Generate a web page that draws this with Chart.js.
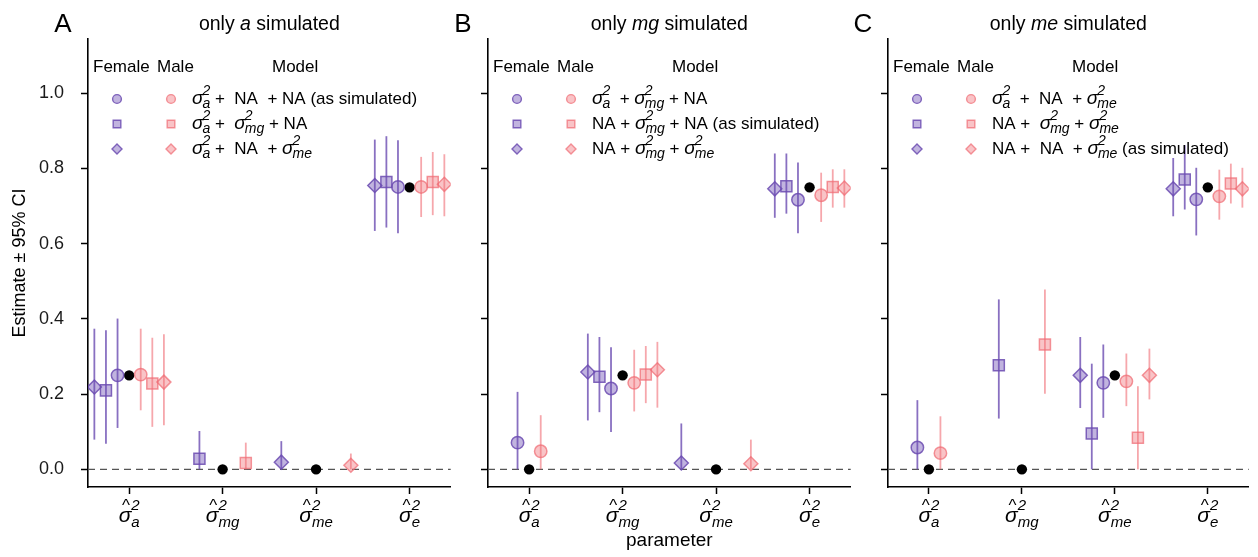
<!DOCTYPE html>
<html>
<head>
<meta charset="utf-8">
<script src="https://cdn.jsdelivr.net/npm/chart.js@4.4.0/dist/chart.umd.min.js"></script>
<style>
    body { margin: 0; background: #fff; width: 1258px; height: 557px; position: relative; overflow: hidden; }
    canvas { position: absolute; top: 0; }
</style>
</head>
<body>
<canvas id="chartA" width="460" height="557" style="left:0px"></canvas>
<canvas id="chartB" width="420" height="557" style="left:440px"></canvas>
<canvas id="chartC" width="418" height="557" style="left:840px"></canvas>
<script>
// parâmetros no eixo x e marcas do eixo y
var parametros = ['a', 'mg', 'me', 'e'];
var ticksY = [0, 0.2, 0.4, 0.6, 0.8, 1.0];

// valor simulado (ponto preto) em cada painel
var simuladoA = [0.25, 0, 0, 0.75];
var simuladoB = [0, 0.25, 0, 0.75];
var simuladoC = [0, 0, 0.25, 0.75];

// linhas = modelo 1 (círculo), modelo 2 (quadrado), modelo 3 (losango); colunas = parametros
var estA_femea = [[0.250, null, null, 0.751], [0.210, 0.028, null, 0.764], [0.219, null, 0.019, 0.755]];
var infA_femea = [[0.110, null, null, 0.628], [0.068, 0.000, null, 0.643], [0.079, null, 0.000, 0.634]];
var supA_femea = [[0.401, null, null, 0.875], [0.370, 0.102, null, 0.886], [0.374, null, 0.075, 0.877]];
var estA_macho = [[0.252, null, null, 0.751], [0.228, 0.017, null, 0.764], [0.232, null, 0.011, 0.758]];
var infA_macho = [[0.157, null, null, 0.671], [0.113, 0.000, null, 0.676], [0.117, null, 0.000, 0.673]];
var supA_macho = [[0.374, null, null, 0.831], [0.350, 0.071, null, 0.844], [0.359, null, 0.042, 0.838]];

var estB_femea = [[0.071, 0.215, null, 0.717], [null, 0.246, null, 0.753], [null, 0.259, 0.017, 0.746]];
var infB_femea = [[0.000, 0.099, null, 0.628], [null, 0.152, null, 0.680], [null, 0.130, 0.000, 0.669]];
var supB_femea = [[0.206, 0.325, null, 0.816], [null, 0.352, null, 0.840], [null, 0.361, 0.122, 0.840]];
var estB_macho = [[0.048, 0.230, null, 0.729], [null, 0.252, null, 0.751], [null, 0.265, 0.015, 0.748]];
var infB_macho = [[0.000, 0.154, null, 0.658], [null, 0.176, null, 0.696], [null, 0.164, 0.000, 0.696]];
var supB_macho = [[0.144, 0.318, null, 0.789], [null, 0.328, null, 0.798], [null, 0.339, 0.079, 0.798]];

var estC_femea = [[0.058, null, 0.230, 0.718], [null, 0.277, 0.095, 0.771], [null, null, 0.250, 0.746]];
var infC_femea = [[0.000, null, 0.137, 0.622], [null, 0.135, 0.000, 0.691], [null, null, 0.163, 0.673]];
var supC_femea = [[0.184, null, 0.332, 0.802], [null, 0.452, 0.281, 0.862], [null, null, 0.352, 0.828]];
var estC_macho = [[0.043, null, 0.234, 0.726], [null, 0.332, 0.084, 0.760], [null, null, 0.250, 0.746]];
var infC_macho = [[0.000, null, 0.168, 0.664], [null, 0.201, 0.000, 0.707], [null, null, 0.186, 0.696]];
var supC_macho = [[0.141, null, 0.308, 0.797], [null, 0.478, 0.221, 0.813], [null, null, 0.321, 0.802]];

// textos da legenda ({s: x} = sigma^2 com índice x)
var modelosA = [
    [{s: 'a'}, ' +  NA  + NA (as simulated)'],
    [{s: 'a'}, ' +  ', {s: 'mg'}, ' + NA'],
    [{s: 'a'}, ' +  NA  + ', {s: 'me'}]
];
var modelosB = [
    [{s: 'a'}, '  + ', {s: 'mg'}, ' + NA'],
    ['NA + ', {s: 'mg'}, ' + NA (as simulated)'],
    ['NA + ', {s: 'mg'}, ' + ', {s: 'me'}]
];
var modelosC = [
    [{s: 'a'}, '  +  NA  + ', {s: 'me'}],
    ['NA +  ', {s: 'mg'}, ' + ', {s: 'me'}],
    ['NA +  NA  + ', {s: 'me'}, ' (as simulated)']
];

var FONTE = '"Liberation Sans", Arial, sans-serif';
var estilos = ['circle', 'rect', 'rectRot'];
var raios = [6.2, 7.8, 7.0];
var raiosLegenda = [4.4, 5.4, 5.0];
var passo = [1, 2, 3];
var dodge = 0.124;
var cores = {
    femea: {borda: 'rgba(108, 76, 178, 0.85)', fundo: 'rgba(108, 76, 178, 0.42)', barra: 'rgba(108, 76, 178, 0.8)'},
    macho: {borda: 'rgba(240, 108, 116, 0.72)', fundo: 'rgba(240, 108, 116, 0.4)', barra: 'rgba(240, 108, 116, 0.6)'}
};

function fonte(tam, italico) {
    return (italico ? 'italic ' : '') + tam + 'px ' + FONTE;
}

// desenha (ou mede) texto com sigma^2 e índices
function desenharRico(ctx, partes, x, y, tam, centro) {
    var largura = 0;
    for (var k = 0; k < 2; k++) {
        var desenhar = k == 1;
        var xAtual = x;
        if (desenhar && centro) xAtual = x - largura / 2;
        partes.forEach(function (p) {
            var w;
            if (typeof p === 'string') {
                ctx.font = fonte(tam);
                w = ctx.measureText(p).width;
                if (desenhar) ctx.fillText(p, xAtual, y);
            } else if (p.i) {
                ctx.font = fonte(tam, true);
                w = ctx.measureText(p.i).width;
                if (desenhar) ctx.fillText(p.i, xAtual, y);
            } else {
                ctx.font = fonte(tam + 2, true);
                var ws = ctx.measureText('σ').width;
                if (desenhar) ctx.fillText('σ', xAtual, y);
                ctx.font = fonte(tam - 3, true);
                var wi = Math.max(ctx.measureText('2').width, ctx.measureText(p.s).width);
                if (desenhar) {
                    ctx.fillText('2', xAtual + ws - 1, y - 9);
                    ctx.fillText(p.s, xAtual + ws - 1, y + 4);
                }
                w = ws - 1 + wi;
            }
            xAtual += w;
            if (!desenhar) largura += w;
        });
    }
}

function desenharRotuloEixo(ctx, sub, cx) {
    ctx.font = fonte(21, true);
    var ws = ctx.measureText('σ').width;
    ctx.font = fonte(15, true);
    var wi = Math.max(ctx.measureText('2').width, ctx.measureText(sub).width);
    var x0 = cx - (ws + wi) / 2;
    ctx.font = fonte(21, true);
    ctx.fillText('σ', x0, 522);
    ctx.font = fonte(17);
    var wh = ctx.measureText('^').width;
    ctx.fillText('^', x0 + ws / 2 - wh / 2 + 1, 511);
    ctx.font = fonte(15, true);
    ctx.fillText('2', x0 + ws, 510);
    ctx.fillText(sub, x0 + ws, 527);
}

function montarDatasets(simulado, sexos) {
    var datasets = [];
    sexos.forEach(function (sexo) {
        for (var m = 0; m < 3; m++) {
            var pontos = [], inferior = [], superior = [];
            sexo.est[m].forEach(function (v, i) {
                if (v === null) return;
                pontos.push({x: i + sexo.sinal * passo[m] * dodge, y: v});
                inferior.push(sexo.inf[m][i]);
                superior.push(sexo.sup[m][i]);
            });
            datasets.push({
                data: pontos,
                inferior: inferior,
                superior: superior,
                corBarra: sexo.cor.barra,
                pointStyle: estilos[m],
                pointRadius: raios[m],
                pointBackgroundColor: sexo.cor.fundo,
                pointBorderColor: sexo.cor.borda,
                pointBorderWidth: 1.5
            });
        }
    });
    datasets.push({
        data: simulado.map(function (v, i) { return {x: i, y: v}; }),
        pointStyle: 'circle',
        pointRadius: 5.2,
        pointBackgroundColor: '#000',
        pointBorderColor: '#000',
        pointBorderWidth: 0
    });
    return datasets;
}

function criarPlugin(cfg) {
    return {
        id: 'painel' + cfg.letra,
        beforeDatasetsDraw: function (chart) {
            var ctx = chart.ctx, area = chart.chartArea;
            var escX = chart.scales.x, escY = chart.scales.y;
            ctx.save();
            // linha tracejada em zero
            ctx.setLineDash([7, 5]);
            ctx.strokeStyle = '#555';
            ctx.lineWidth = 1.3;
            var y0 = escY.getPixelForValue(0);
            ctx.beginPath();
            ctx.moveTo(area.left, y0);
            ctx.lineTo(area.right, y0);
            ctx.stroke();
            ctx.setLineDash([]);
            // intervalos de confiança
            chart.data.datasets.forEach(function (ds) {
                if (!ds.inferior) return;
                ctx.strokeStyle = ds.corBarra;
                ctx.lineWidth = 1.8;
                ds.data.forEach(function (p, k) {
                    var px = escX.getPixelForValue(p.x);
                    ctx.beginPath();
                    ctx.moveTo(px, escY.getPixelForValue(ds.inferior[k]));
                    ctx.lineTo(px, escY.getPixelForValue(ds.superior[k]));
                    ctx.stroke();
                });
            });
            ctx.restore();
        },
        afterDraw: function (chart) {
            var ctx = chart.ctx, area = chart.chartArea;
            var L = area.left;
            ctx.save();
            ctx.fillStyle = '#000';
            ctx.textBaseline = 'alphabetic';

            ctx.textAlign = 'center';
            ctx.font = fonte(26);
            ctx.fillText(cfg.letra, L - 25, 32);

            ctx.textAlign = 'left';
            desenharRico(ctx, cfg.titulo, (area.left + area.right) / 2, 30, 19.5, true);

            // legenda
            ctx.font = fonte(17);
            ctx.fillStyle = '#000';
            ctx.fillText('Female', L + 5, 72);
            ctx.fillText('Male', L + 69, 72);
            ctx.fillText('Model', L + 184, 72);
            for (var m = 0; m < 3; m++) {
                var yl = 99 + 25 * m;
                [['femea', L + 29], ['macho', L + 83]].forEach(function (s) {
                    ctx.fillStyle = cores[s[0]].fundo;
                    ctx.strokeStyle = cores[s[0]].borda;
                    ctx.lineWidth = 1.4;
                    Chart.helpers.drawPoint(ctx, {pointStyle: estilos[m], radius: raiosLegenda[m], borderWidth: 1.4, rotation: 0}, s[1], yl);
                });
                ctx.fillStyle = '#000';
                desenharRico(ctx, cfg.modelos[m], L + 104, yl + 5, 17, false);
            }

            // rótulos do eixo x
            parametros.forEach(function (p, i) {
                desenharRotuloEixo(ctx, p, chart.scales.x.getPixelForValue(i));
            });
            ctx.restore();
        }
    };
}

function criarPainel(idCanvas, cfg) {
    var eixoY = {
        min: -0.047,
        max: 1.1445,
        afterBuildTicks: function (escala) { escala.ticks = ticksY.map(function (v) { return {value: v}; }); },
        afterFit: function (escala) { escala.width = cfg.larguraY; },
        ticks: {
            display: cfg.mostrarY,
            padding: 17,
            color: '#1a1a1a',
            font: {family: FONTE, size: 18},
            callback: function (v) { return v.toFixed(1); }
        },
        grid: {drawOnChartArea: false, drawTicks: true, tickLength: 7, tickColor: '#000', tickWidth: 1.5},
        border: {display: true, color: '#000', width: 1.6},
        title: {display: cfg.mostrarY, text: 'Estimate ± 95% CI', color: '#000', font: {family: FONTE, size: 18}, padding: {top: 9, bottom: 0}}
    };
    var eixoX = {
        type: 'linear',
        min: -0.44,
        max: 3.44,
        afterBuildTicks: function (escala) { escala.ticks = parametros.map(function (p, i) { return {value: i}; }); },
        afterFit: function (escala) { escala.height = 70; },
        ticks: {display: false},
        grid: {drawOnChartArea: false, drawTicks: true, tickLength: 7, tickColor: '#000', tickWidth: 1.5},
        border: {display: true, color: '#000', width: 1.6},
        title: {display: cfg.mostrarTituloX, text: 'parameter', color: '#000', font: {family: FONTE, size: 19}, padding: {top: 0, bottom: 5}}
    };

    new Chart(document.getElementById(idCanvas), {
        type: 'scatter',
        data: {datasets: cfg.datasets},
        options: {
            responsive: false,
            animation: false,
            layout: {padding: {top: 39, right: cfg.padDireita, bottom: 0, left: 0}},
            plugins: {legend: {display: false}, tooltip: {enabled: false}},
            scales: {x: eixoX, y: eixoY}
        },
        plugins: [criarPlugin(cfg)]
    });
}

function sexosDe(estF, infF, supF, estM, infM, supM) {
    return [
        {est: estF, inf: infF, sup: supF, sinal: -1, cor: cores.femea},
        {est: estM, inf: infM, sup: supM, sinal: 1, cor: cores.macho}
    ];
}

criarPainel('chartA', {
    letra: 'A', titulo: ['only ', {i: 'a'}, ' simulated'], modelos: modelosA,
    larguraY: 88, padDireita: 3, mostrarY: true, mostrarTituloX: false,
    datasets: montarDatasets(simuladoA, sexosDe(estA_femea, infA_femea, supA_femea, estA_macho, infA_macho, supA_macho))
});
criarPainel('chartB', {
    letra: 'B', titulo: ['only ', {i: 'mg'}, ' simulated'], modelos: modelosB,
    larguraY: 48, padDireita: 2, mostrarY: false, mostrarTituloX: true,
    datasets: montarDatasets(simuladoB, sexosDe(estB_femea, infB_femea, supB_femea, estB_macho, infB_macho, supB_macho))
});
criarPainel('chartC', {
    letra: 'C', titulo: ['only ', {i: 'me'}, ' simulated'], modelos: modelosC,
    larguraY: 48, padDireita: 1, mostrarY: false, mostrarTituloX: false,
    datasets: montarDatasets(simuladoC, sexosDe(estC_femea, infC_femea, supC_femea, estC_macho, infC_macho, supC_macho))
});
</script>
</body>
</html>
